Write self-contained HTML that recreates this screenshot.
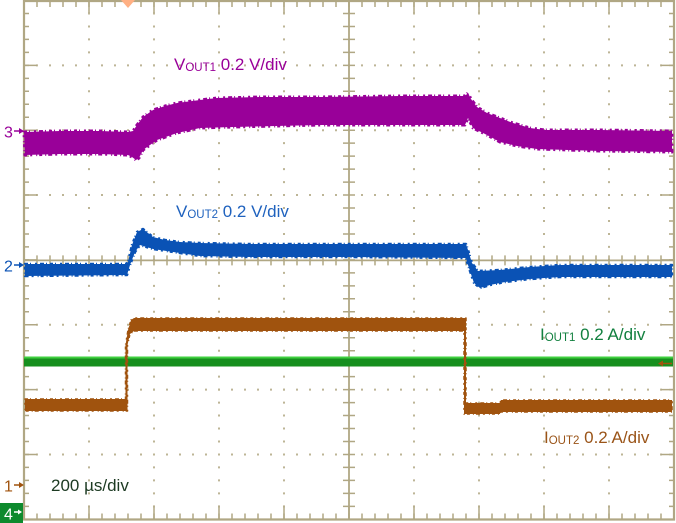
<!DOCTYPE html>
<html><head><meta charset="utf-8"><style>
html,body{margin:0;padding:0;background:#fff;}
svg{display:block;}
text{font-family:"Liberation Sans",Arial,sans-serif;}
</style></head><body>
<svg width="676" height="523" viewBox="0 0 676 523" xmlns="http://www.w3.org/2000/svg">
<rect x="0" y="0" width="676" height="523" fill="#fff"/>
<!-- dotted grid -->
<g stroke="#bdb596" stroke-width="2" stroke-dasharray="2 10.97" fill="none">
<line x1="89" y1="-0.5" x2="89" y2="521"/>
<line x1="154" y1="-0.5" x2="154" y2="521"/>
<line x1="219" y1="-0.5" x2="219" y2="521"/>
<line x1="284" y1="-0.5" x2="284" y2="521"/>
<line x1="414" y1="-0.5" x2="414" y2="521"/>
<line x1="479" y1="-0.5" x2="479" y2="521"/>
<line x1="544" y1="-0.5" x2="544" y2="521"/>
<line x1="609" y1="-0.5" x2="609" y2="521"/>
</g>
<g stroke="#bdb596" stroke-width="2" stroke-dasharray="2 11" fill="none">
<line x1="23" y1="65.35" x2="675" y2="65.35"/>
<line x1="23" y1="130.2" x2="675" y2="130.2"/>
<line x1="23" y1="195.05" x2="675" y2="195.05"/>
<line x1="23" y1="324.75" x2="675" y2="324.75"/>
<line x1="23" y1="389.6" x2="675" y2="389.6"/>
<line x1="23" y1="454.45" x2="675" y2="454.45"/>
</g>
<!-- borders -->
<g stroke="#b0a784" fill="none">
<line x1="24" y1="0" x2="24" y2="520.5" stroke-width="2.2"/>
<line x1="674" y1="0" x2="674" y2="520.5" stroke-width="2.2"/>
<line x1="23" y1="1" x2="675" y2="1" stroke-width="2.2"/>
<line x1="23" y1="519.5" x2="675" y2="519.5" stroke-width="2.2"/>
<line x1="26.5" y1="-0.25" x2="26.5" y2="521" stroke-width="5" stroke-dasharray="1.5 11.47"/>
<line x1="30.5" y1="-0.25" x2="30.5" y2="521" stroke-width="13" stroke-dasharray="1.5 63.35"/>
<line x1="671.5" y1="-0.25" x2="671.5" y2="521" stroke-width="5" stroke-dasharray="1.5 11.47"/>
<line x1="667.5" y1="-0.25" x2="667.5" y2="521" stroke-width="13" stroke-dasharray="1.5 63.35"/>
<line x1="23.25" y1="4" x2="675" y2="4" stroke-width="6" stroke-dasharray="1.5 11.5"/>
<line x1="23.25" y1="7" x2="675" y2="7" stroke-width="12" stroke-dasharray="1.5 63.5"/>
<line x1="23.25" y1="516.5" x2="675" y2="516.5" stroke-width="6" stroke-dasharray="1.5 11.5"/>
<line x1="23.25" y1="513" x2="675" y2="513" stroke-width="13" stroke-dasharray="1.5 63.5"/>
<line x1="349" y1="0" x2="349" y2="520" stroke-width="1.8"/>
<line x1="349" y1="-0.25" x2="349" y2="521" stroke-width="12" stroke-dasharray="1.5 11.47"/>
<line x1="24" y1="260.4" x2="674" y2="260.4" stroke-width="1.8"/>
<line x1="23.25" y1="260.4" x2="675" y2="260.4" stroke-width="10" stroke-dasharray="1.5 11.5"/>
</g>

<!-- trigger marker -->
<polygon points="121,0 135,0 128,8" fill="#ffb084"/>

<!-- CH3 purple -->
<polygon fill="#990099" stroke="#990099" stroke-width="3" stroke-dasharray="3 2 1 4 2 3 4 2 1 3" stroke-linejoin="round"
points="24,132 60,131 100,131 128,132 133,131 137,125 143,117 153,110 165,106 177,103 200,100 217,98 260,97 320,97 400,96 440,96 465,96 468,93 471,99 477,107 487,113 500,118 513,123 530,128 545,130 600,130 672,131 672,152 600,151 537,149 517,146 500,142 487,135 473,128 468,118 465,125 420,125 320,125 233,127 200,128 177,133 157,140 143,150 139,158 136,160 132,157 128,155 100,154 60,154 25,155"/>

<!-- CH2 blue -->
<polygon fill="#0a52b5" stroke="#0a52b5" stroke-width="2.5" stroke-dasharray="3 2 1 4 2 3 4 2 1 3" stroke-linejoin="round"
points="25,264 126,264 128,262 132,245 137,232 143,229 148,233 153,237 165,240 180,242 200,243 250,244 350,244 466,244 468,250 472,263 478,271 500,270 530,267 560,265 672,265 672,277 560,277 530,279 505,282 490,285 480,288 474,283 468,265 466,258 350,257 250,257 200,256 180,253 153,249 140,245 135,252 130,265 127,275 25,276"/>

<!-- CH4 green -->
<rect x="24" y="356.5" width="649" height="10" fill="#168f1e"/>
<rect x="24" y="356.5" width="649" height="2" fill="#3fcf3f"/>

<!-- CH1 brown -->
<polygon fill="#a0530e" stroke="#a0530e" stroke-width="1.5" stroke-dasharray="3 2 1 4 2 3 4 2 1 3" stroke-linejoin="round"
points="25,399 125.5,399 125.5,345 128,330 131,320 134,318 466,318 466,403 500,403 501,400 672,400 672,412 500,412 500,414 464,414 464,331 134,331 130,334 127.5,345 127.5,411 25,411"/>
<line x1="661" y1="363.5" x2="672" y2="363.5" stroke="#a0530e" stroke-width="1.5"/>
<polygon points="658,363.5 663,360.5 663,366.5" fill="#a0530e"/>

<!-- channel markers -->
<text x="4" y="137.5" font-size="16" fill="#990099">3</text>
<line x1="14" y1="131" x2="20" y2="131" stroke="#990099" stroke-width="1.5"/>
<polygon points="19,128 24,131 19,134" fill="#990099"/>

<text x="4" y="271.5" font-size="16" fill="#0a52b5">2</text>
<line x1="14" y1="265" x2="20" y2="265" stroke="#0a52b5" stroke-width="1.5"/>
<polygon points="19,262 24,265 19,268" fill="#0a52b5"/>

<text x="4" y="491.5" font-size="16" fill="#a0530e">1</text>
<line x1="14" y1="485" x2="20" y2="485" stroke="#a0530e" stroke-width="1.5"/>
<polygon points="19,482 24,485 19,488" fill="#a0530e"/>

<rect x="0" y="503" width="23" height="20" fill="#0d8a2d"/>
<text x="4" y="519.5" font-size="16" fill="#fff">4</text>
<line x1="14" y1="512" x2="19" y2="512" stroke="#fff" stroke-width="1.5"/>
<polygon points="18,509.5 22,512 18,514.5" fill="#fff"/>

<!-- labels -->
<text x="174" y="70" font-size="17" fill="#990099">V<tspan font-size="11.5" dy="1">OUT1</tspan><tspan dy="-1"> 0.2 V/div</tspan></text>
<text x="176" y="217" font-size="17" fill="#1f62be">V<tspan font-size="11.5" dy="1">OUT2</tspan><tspan dy="-1"> 0.2 V/div</tspan></text>
<text x="540" y="340" font-size="17" fill="#12803f">I<tspan font-size="11.5" dy="1">OUT1</tspan><tspan dy="-1"> 0.2 A/div</tspan></text>
<text x="544" y="443" font-size="17" fill="#9a5418">I<tspan font-size="11.5" dy="1">OUT2</tspan><tspan dy="-1"> 0.2 A/div</tspan></text>
<text x="51" y="491" font-size="17" fill="#1c3a22">200 µs/div</text>
</svg>
</body></html>
